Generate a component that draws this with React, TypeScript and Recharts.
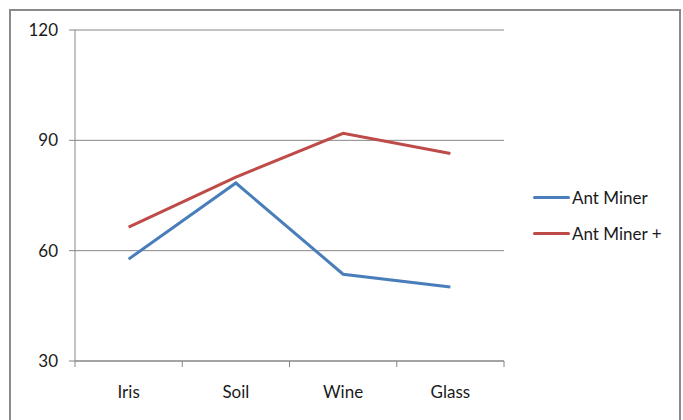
import { LineChart, Line, XAxis, YAxis, CartesianGrid, Legend } from "recharts";

const datasets = ["Iris", "Soil", "Wine", "Glass"];
const antMiner = [57.7, 78.4, 53.6, 50.1];
const antMinerPlus = [66.4, 80.0, 91.9, 86.4];
const yTicks = [30, 60, 90, 120];

const data = datasets.map((name, i) => ({
  name,
  antMiner: antMiner[i],
  antMinerPlus: antMinerPlus[i],
}));

const FONT = "Lato, 'Open Sans', sans-serif";
const AXIS = "#868686";
const TEXT = "#1a1a1a";
const BLUE = "#4A7EBB";
const RED = "#BE4B48";

const CategoryTick = (props: any) => {
  const { x, y, payload, index, width } = props;
  const half = payload?.offset || width / (datasets.length * 2);
  const last = index === datasets.length - 1;
  return (
    <g>
      <line x1={x - half} x2={x - half} y1={y} y2={y + 6} stroke={AXIS} />
      {last && <line x1={x + half} x2={x + half} y1={y} y2={y + 6} stroke={AXIS} />}
      <text x={x} y={y + 37} textAnchor="middle" fill={TEXT} fontSize={17} fontFamily={FONT}>
        {payload.value}
      </text>
    </g>
  );
};

const LegendBox = () => (
  <div style={{ fontFamily: FONT, fontSize: 17, color: TEXT }}>
    {[
      { label: "Ant Miner", color: BLUE },
      { label: "Ant Miner +", color: RED },
    ].map((s) => (
      <div key={s.label} style={{ display: "flex", alignItems: "center", height: 36 }}>
        <span style={{ display: "inline-block", width: 37, height: 3, background: s.color, borderRadius: 2 }} />
        <span style={{ marginLeft: 2 }}>{s.label}</span>
      </div>
    ))}
  </div>
);

export default function App() {
  return (
    <div style={{ position: "fixed", left: 0, top: 0, width: 683, height: 420, background: "#fff", overflow: "hidden" }}>
      <div
        style={{
          position: "absolute",
          left: 9,
          top: 9,
          width: 668,
          height: 430,
          border: "2px solid #8a8a8a",
        }}
      />
      <div style={{ position: "absolute", left: 0, top: 0 }}>
        <LineChart width={683} height={420} data={data} margin={{ top: 30, right: 179, bottom: 0, left: 15 }}>
          <CartesianGrid vertical={false} stroke={AXIS} />
          <XAxis
            dataKey="name"
            scale="band"
            stroke={AXIS}
            tickLine={false}
            tickSize={0}
            tickMargin={0}
            height={59}
            tick={<CategoryTick />}
            interval={0}
          />
          <YAxis
            domain={[30, 120]}
            ticks={yTicks}
            width={60}
            stroke={AXIS}
            tickSize={6}
            tickMargin={11}
            tick={{ fill: TEXT, fontSize: 17, fontFamily: FONT }}
          />
          <Legend
            layout="vertical"
            align="center"
            verticalAlign="middle"
            content={<LegendBox />}
            wrapperStyle={{ left: 533, top: 179, width: 145 }}
          />
          <Line dataKey="antMiner" name="Ant Miner" stroke={BLUE} strokeWidth={3} dot={false} isAnimationActive={false} />
          <Line dataKey="antMinerPlus" name="Ant Miner +" stroke={RED} strokeWidth={3} dot={false} isAnimationActive={false} />
        </LineChart>
      </div>
    </div>
  );
}
